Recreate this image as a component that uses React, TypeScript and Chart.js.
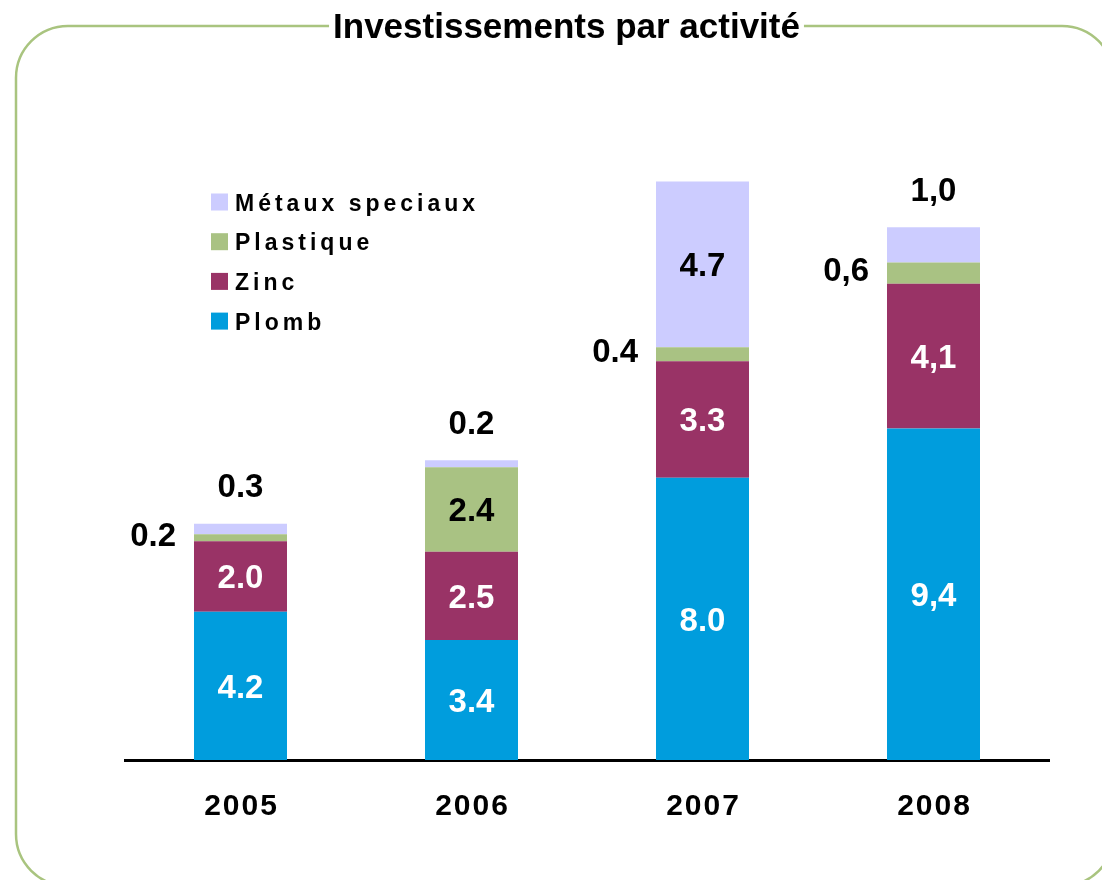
import React, { useEffect, useRef } from "react";
import { Chart, registerables } from "chart.js";

Chart.register(...registerables);

// ---- Data ----
const years = ["2005", "2006", "2007", "2008"];
const plomb = [4.2, 3.4, 8.0, 9.4];
const zinc = [2.0, 2.5, 3.3, 4.1];
const plastique = [0.2, 2.4, 0.4, 0.6];
const metaux = [0.3, 0.2, 4.7, 1.0];
const decimalSeparators = [".", ".", ".", ","];
const seriesNames = ["Plomb", "Zinc", "Plastique", "Métaux speciaux"];
const chartTitle = "Investissements par activité";

// ---- Styles ----
const FONT = "'Liberation Sans', Arial, sans-serif";
const seriesColors = ["#009ddd", "#993366", "#a9c283", "#ccccff"];
const insideTextColors = ["#ffffff", "#ffffff", "#000000", "#000000"];
const borderColor = "#a9c47f";

function fmt(v: number, sep: string) {
  return v.toFixed(1).replace(".", sep);
}

const decorPlugin = {
  id: "decor",
  beforeDraw(chart: any) {
    const ctx = chart.ctx;
    ctx.save();
    ctx.fillStyle = "#ffffff";
    ctx.fillRect(0, 0, chart.width, chart.height);
    ctx.strokeStyle = borderColor;
    ctx.lineWidth = 2.5;
    ctx.beginPath();
    (ctx as any).roundRect(16, 26, 1098, 860, 52);
    ctx.stroke();
    ctx.restore();
  },
  afterDatasetsDraw(chart: any) {
    const ctx = chart.ctx;
    const xScale = chart.scales.x;
    ctx.save();

    // value labels
    const size = 33;
    const valueFont = `bold ${size}px ${FONT}`;
    const capHalf = (0.716 * size) / 2;
    chart.data.datasets.forEach((ds: any, di: number) => {
      const meta = chart.getDatasetMeta(di);
      meta.data.forEach((el: any, j: number) => {
        const v = ds.data[j];
        const text = fmt(v, decimalSeparators[j]);
        const top = el.y;
        const bottom = el.base;
        const h = bottom - top;
        ctx.font = valueFont;
        ctx.textBaseline = "alphabetic";
        if (h >= 45) {
          ctx.fillStyle = insideTextColors[di];
          ctx.textAlign = "center";
          ctx.fillText(text, el.x, (top + bottom) / 2 + capHalf);
        } else if (di === chart.data.datasets.length - 1) {
          ctx.fillStyle = "#000000";
          ctx.textAlign = "center";
          ctx.fillText(text, el.x, top - 38 + capHalf);
        } else {
          ctx.fillStyle = "#000000";
          ctx.textAlign = "right";
          ctx.fillText(text, el.x - el.width / 2 - 18, (top + bottom) / 2 - 4 + capHalf);
        }
      });
    });

    // year labels
    ctx.font = `bold 30px ${FONT}`;
    (ctx as any).letterSpacing = "2px";
    ctx.fillStyle = "#000000";
    ctx.textAlign = "center";
    ctx.textBaseline = "alphabetic";
    years.forEach((y, i) => {
      const x = xScale.getPixelForValue(i);
      ctx.fillText(y, x + 1, chart.chartArea.bottom + 55);
    });

    // legend (reverse order)
    ctx.font = `bold 23px ${FONT}`;
    (ctx as any).letterSpacing = "4px";
    ctx.textAlign = "left";
    const n = chart.data.datasets.length;
    for (let k = 0; k < n; k++) {
      const di = n - 1 - k;
      const cy = 202 + k * 39.7;
      ctx.fillStyle = seriesColors[di];
      ctx.fillRect(211, cy - 8.5, 17, 17);
      ctx.fillStyle = "#000000";
      ctx.fillText(chart.data.datasets[di].label, 235, cy + 8.5);
    }
    (ctx as any).letterSpacing = "0px";

    // title
    ctx.font = `bold 35px ${FONT}`;
    const tw = ctx.measureText(chartTitle).width;
    ctx.fillStyle = "#ffffff";
    ctx.fillRect(566.5 - tw / 2 - 4, 18, tw + 8, 16);
    ctx.fillStyle = "#000000";
    ctx.textAlign = "center";
    ctx.fillText(chartTitle, 566.5, 38);

    ctx.restore();
  },
};

export default function App() {
  const canvasRef = useRef<HTMLCanvasElement | null>(null);

  useEffect(() => {
    if (!canvasRef.current) return;
    const series = [plomb, zinc, plastique, metaux];
    const chart = new Chart(canvasRef.current, {
      type: "bar",
      data: {
        labels: years,
        datasets: series.map((d, i) => ({
          label: seriesNames[i],
          data: d,
          backgroundColor: seriesColors[i],
          borderWidth: 0,
          barPercentage: 0.4026,
          categoryPercentage: 1,
        })),
      },
      options: {
        responsive: false,
        animation: false,
        layout: { padding: { left: 125, right: 53, top: 125, bottom: 120 } },
        plugins: {
          legend: { display: false },
          title: { display: false },
          tooltip: { enabled: false },
        },
        scales: {
          x: {
            stacked: true,
            grid: { display: false, drawTicks: false },
            border: { display: true, color: "#000000", width: 3 },
            ticks: { display: false },
          },
          y: {
            stacked: true,
            display: false,
            min: 0,
            max: 18,
          },
        },
      },
      plugins: [decorPlugin],
    });
    return () => chart.destroy();
  }, []);

  return (
    <div style={{ position: "absolute", left: 0, top: 0, width: 1102, height: 880, overflow: "hidden" }}>
      <canvas ref={canvasRef} width={1102} height={880} style={{ display: "block" }} />
    </div>
  );
}
